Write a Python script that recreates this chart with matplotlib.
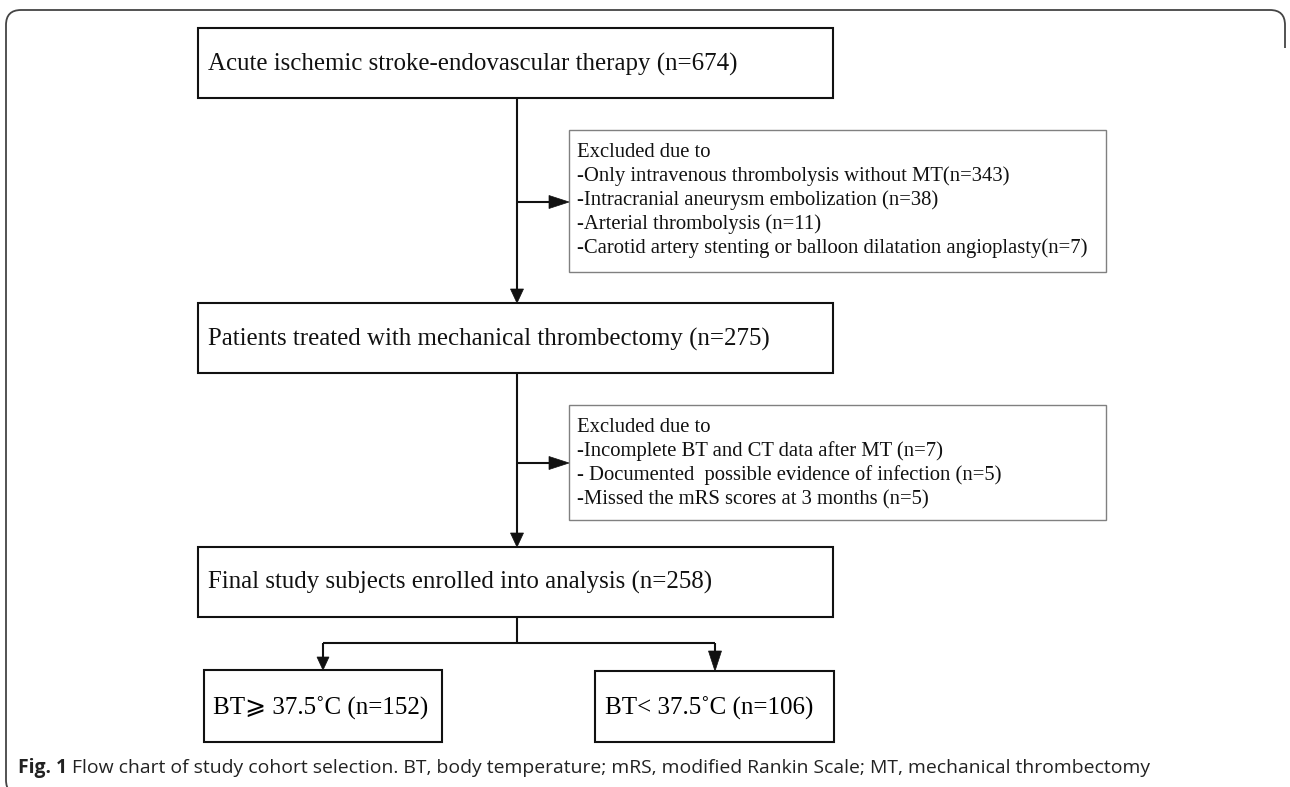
import matplotlib
matplotlib.use("Agg")
import matplotlib.pyplot as plt
from matplotlib.patches import Rectangle, Polygon, PathPatch
from matplotlib.path import Path
from matplotlib import font_manager

# ---------------- data ----------------
n_total = 674
n_mt = 275
n_final = 258
n_high = 152
n_low = 106

excl1_reasons = ["-Only intravenous thrombolysis without MT",
                 "-Intracranial aneurysm embolization ",
                 "-Arterial thrombolysis ",
                 "-Carotid artery stenting or balloon dilatation angioplasty"]
excl1_counts = [343, 38, 11, 7]

excl2_reasons = ["-Incomplete BT and CT data after MT ",
                 "- Documented  possible evidence of infection ",
                 "-Missed the mRS scores at 3 months "]
excl2_counts = [7, 5, 5]

main_labels = ["Acute ischemic stroke-endovascular therapy (n={})".format(n_total),
               "Patients treated with mechanical thrombectomy (n={})".format(n_mt),
               "Final study subjects enrolled into analysis (n={})".format(n_final)]
group_labels = ["BT\u2a7e 37.5\u02daC (n={})".format(n_high),
                "BT< 37.5\u02daC (n={})".format(n_low)]
caption_bold = "Fig. 1"
caption_text = ("Flow chart of study cohort selection. BT, body temperature; mRS, "
                "modified Rankin Scale; MT, mechanical thrombectomy")

# ---------------- figure ----------------
W, H = 1290, 787
fig = plt.figure(figsize=(W / 100, H / 100), dpi=100)
ax = fig.add_axes([0, 0, 1, 1])
ax.set_xlim(0, W)
ax.set_ylim(H, 0)
ax.axis("off")
renderer = fig.canvas.get_renderer()

serif = ["Liberation Serif", "DejaVu Serif", "DejaVu Sans"]
avail = {f.name for f in font_manager.fontManager.ttflist}
cap_family = "Liberation Sans Narrow" if "Liberation Sans Narrow" in avail else "Open Sans"


def text_width(s, family, size=20, weight="normal"):
    t = ax.text(0, 0, s, fontsize=size, family=family, weight=weight)
    w = t.get_window_extent(renderer).width
    t.remove()
    return w


def fit_size(s, family, target, weight="normal"):
    return 20 * target / text_width(s, family, 20, weight)


# outer frame (rounded)
r = 15
x0, x1, y0 = 6, 1285, 10
verts = [(x1, 48), (x1, y0 + r), (x1, y0), (x1 - r, y0), (x0 + r, y0), (x0, y0), (x0, y0 + r),
         (x0, 780), (x0, 795), (x0 + r, 795)]
codes = [Path.MOVETO, Path.LINETO, Path.CURVE3, Path.CURVE3, Path.LINETO, Path.CURVE3, Path.CURVE3,
         Path.LINETO, Path.CURVE3, Path.CURVE3]
ax.add_patch(PathPatch(Path(verts, codes), fill=False, edgecolor="#444444", lw=1.3))

LC = "#111111"
LW = 1.5


def box(xa, ya, xb, yb, color=LC, lw=LW):
    ax.add_patch(Rectangle((xa, ya), xb - xa, yb - ya, fill=False, edgecolor=color, lw=lw))


def line(xs, ys):
    ax.plot(xs, ys, color=LC, lw=LW, solid_capstyle="butt")


def head_down(x, ytip, length=14, half=6.5):
    ax.add_patch(Polygon([(x - half, ytip - length), (x + half, ytip - length), (x, ytip)],
                         closed=True, facecolor=LC, edgecolor=LC, lw=0.5))


def head_right(xtip, y, length=20, half=6.5):
    ax.add_patch(Polygon([(xtip - length, y - half), (xtip - length, y + half), (xtip, y)],
                         closed=True, facecolor=LC, edgecolor=LC, lw=0.5))


# main boxes
main_boxes = [(198, 28, 833, 98), (198, 303, 833, 373), (198, 547, 833, 617)]
main_base = [71, 346, 589]
main_fs = fit_size(main_labels[0], serif, 527)
for (xa, ya, xb, yb), lab, yb_ in zip(main_boxes, main_labels, main_base):
    box(xa, ya, xb, yb)
    ax.text(208, yb_, lab, fontsize=main_fs, family=serif, va="baseline", ha="left", color="#111111")

# exclusion boxes
ex_color = "#808080"
ex_lines1 = ["Excluded due to"] + ["{}(n={})".format(s, c) for s, c in zip(excl1_reasons, excl1_counts)]
ex_lines2 = ["Excluded due to"] + ["{}(n={})".format(s, c) for s, c in zip(excl2_reasons, excl2_counts)]
ex_fs = fit_size(ex_lines1[-1], serif, 511)
box(569, 130, 1106, 272, color=ex_color, lw=1.0)
box(569, 405, 1106, 520, color=ex_color, lw=1.0)
for i, s in enumerate(ex_lines1):
    ax.text(577, 157 + 24 * i, s, fontsize=ex_fs, family=serif, va="baseline", color="#111111")
for i, s in enumerate(ex_lines2):
    ax.text(577, 432 + 24 * i, s, fontsize=ex_fs, family=serif, va="baseline", color="#111111")

# connectors
xc = 517
line([xc, xc], [98, 290])
head_down(xc, 303)
line([xc, 550], [202, 202])
head_right(569, 202)

line([xc, xc], [373, 533])
head_down(xc, 547)
line([xc, 550], [463, 463])
head_right(569, 463)

line([xc, xc], [617, 643])
line([323, 715], [643, 643])
line([323, 323], [643, 658])
head_down(323, 670, length=13, half=6)
line([715, 715], [643, 652])
head_down(715, 671, length=20, half=6.5)

# group boxes
box(204, 670, 442, 742)
box(595, 671, 834, 742)
g_fs = fit_size(group_labels[0], serif, 215)
ax.text(213, 715, group_labels[0], fontsize=g_fs, family=serif, va="baseline")
ax.text(605, 715, group_labels[1], fontsize=g_fs, family=serif, va="baseline")

# caption
wb = text_width(caption_bold, cap_family, 20, "bold")
wr = text_width(" " + caption_text, cap_family, 20)
cfs = 20 * (1148 - 18) / (wb + wr)
tb = ax.text(18, 773, caption_bold, fontsize=cfs, family=cap_family, weight="bold", va="baseline",
             color="#222222")
bw = tb.get_window_extent(renderer).width
ax.text(18 + bw, 773, " " + caption_text, fontsize=cfs, family=cap_family, va="baseline",
        color="#222222")

fig.savefig("out.png", dpi=100, facecolor="white")
